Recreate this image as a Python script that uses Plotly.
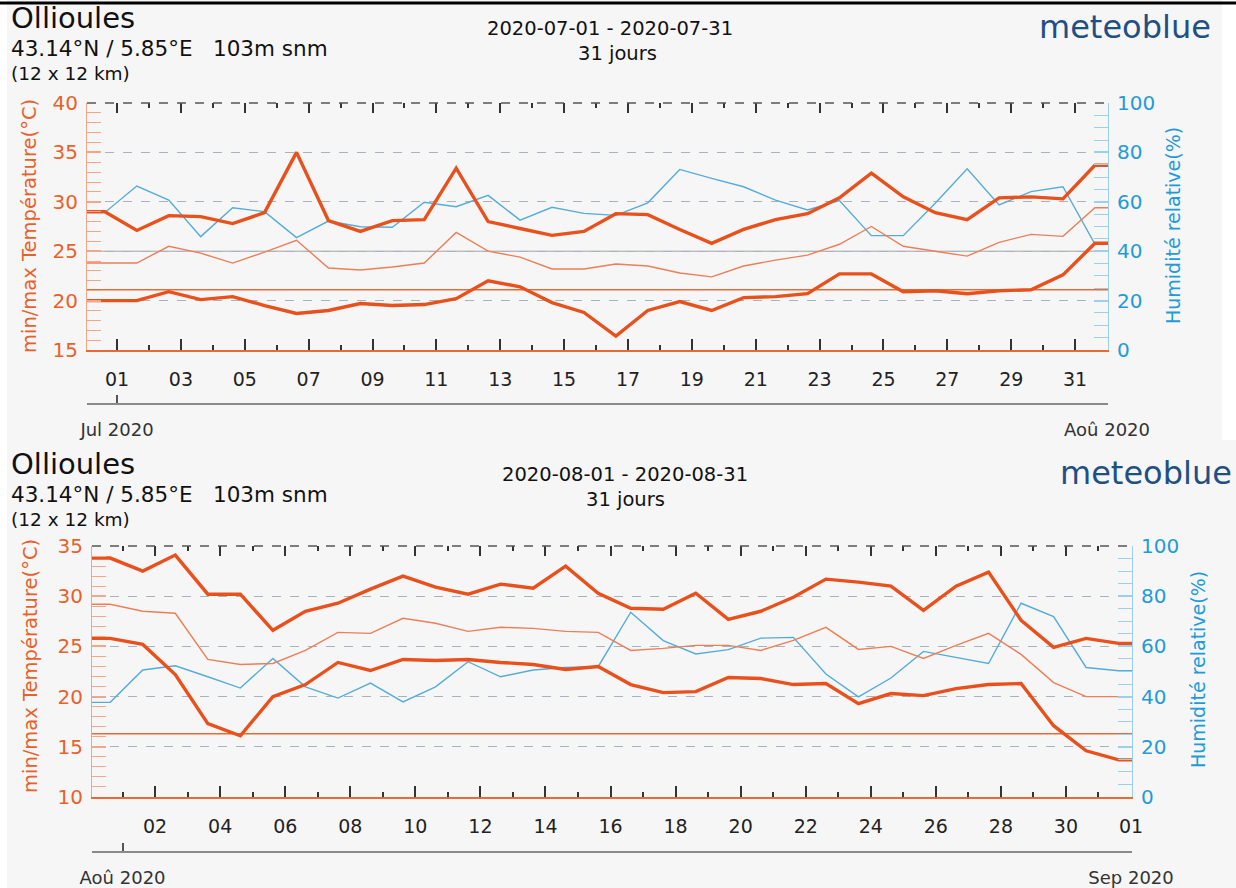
import plotly.graph_objects as go

# ---------------- data ----------------
# index 0 = last day of previous month, then day 1 .. 31 of the month
JUL_POINT_DAYS = list(range(0, 32))
AOU_POINT_DAYS = list(range(0, 32))

JUL_TMAX = [29.0, 27.1, 28.6, 28.5, 27.8, 28.9, 35.0, 28.1, 27.0, 28.1, 28.2, 33.4,
            28.0, 27.3, 26.6, 27.0, 28.8, 28.7, 27.2, 25.8, 27.2, 28.2, 28.8, 30.4,
            32.9, 30.5, 28.9, 28.2, 30.4, 30.5, 30.3, 33.7]
JUL_TMEAN = [23.8, 23.8, 25.5, 24.8, 23.8, 24.9, 26.1, 23.3, 23.1, 23.4, 23.8, 26.9,
             25.0, 24.4, 23.2, 23.2, 23.7, 23.5, 22.8, 22.4, 23.5, 24.1, 24.6, 25.7,
             27.5, 25.5, 25.0, 24.5, 25.9, 26.7, 26.5, 29.4]
JUL_TMIN = [20.0, 20.0, 20.9, 20.1, 20.4, 19.5, 18.7, 19.0, 19.7, 19.5, 19.6, 20.2,
            22.0, 21.4, 19.8, 18.8, 16.4, 19.0, 19.9, 19.0, 20.3, 20.4, 20.7, 22.7,
            22.7, 20.9, 21.0, 20.7, 21.0, 21.1, 22.6, 25.8]
JUL_HUM = [55.7, 66.4, 60.7, 45.9, 57.6, 56.0, 45.5, 52.2, 49.9, 49.7, 59.8, 58.0,
           62.6, 52.6, 57.8, 55.3, 54.5, 59.6, 73.1, 69.5, 66.1, 60.7, 56.7, 60.5,
           46.3, 46.3, 59.4, 73.4, 58.7, 64.1, 66.1, 42.9]
JUL_REF = 21.1

AOU_TMAX = [33.8, 32.5, 34.1, 30.2, 30.2, 26.6, 28.5, 29.3, 30.7, 32.0, 30.9, 30.2,
            31.2, 30.8, 33.0, 30.3, 28.8, 28.7, 30.3, 27.7, 28.5, 29.9, 31.7, 31.4,
            31.0, 28.6, 31.0, 32.4, 27.6, 24.9, 25.8, 25.3]
AOU_TMEAN = [29.2, 28.5, 28.3, 23.7, 23.2, 23.3, 24.6, 26.4, 26.3, 27.8, 27.3, 26.5,
             26.9, 26.8, 26.5, 26.4, 24.6, 24.8, 25.1, 25.1, 24.6, 25.6, 26.9, 24.7,
             25.0, 23.8, 25.1, 26.3, 24.2, 21.4, 20.0, 20.0]
AOU_TMIN = [25.8, 25.2, 22.2, 17.3, 16.1, 20.0, 21.2, 23.4, 22.6, 23.7, 23.6, 23.7,
            23.4, 23.2, 22.7, 23.0, 21.2, 20.4, 20.5, 21.9, 21.8, 21.2, 21.3, 19.3,
            20.3, 20.1, 20.8, 21.2, 21.3, 17.1, 14.6, 13.7]
AOU_HUM = [37.7, 50.6, 52.3, 47.9, 43.4, 55.2, 43.9, 39.4, 45.4, 37.9, 43.9, 53.9,
           47.9, 50.6, 51.6, 51.9, 73.6, 62.3, 57.0, 58.7, 63.3, 63.6, 49.0, 39.9,
           47.4, 58.0, 55.7, 53.2, 77.2, 71.9, 51.6, 50.3]
AOU_REF = 16.3

JUL_TICK_DAYS = list(range(1, 32, 2))
JUL_TICK_TEXT = ["01", "03", "05", "07", "09", "11", "13", "15", "17", "19", "21",
                 "23", "25", "27", "29", "31"]
JUL_MINOR_DAYS = list(range(2, 33, 2))
AOU_TICK_DAYS = list(range(2, 33, 2))
AOU_TICK_TEXT = ["02", "04", "06", "08", "10", "12", "14", "16", "18", "20", "22",
                 "24", "26", "28", "30", "01"]
AOU_MINOR_DAYS = list(range(1, 32, 2))
JUL_MONTH_DAYS = [1, 32]
JUL_MONTH_TEXT = ["Jul 2020", "Aoû 2020"]
AOU_MONTH_DAYS = [1, 32]
AOU_MONTH_TEXT = ["Aoû 2020", "Sep 2020"]

# ---------------- style ----------------
W, H = 1236, 888
FONT = "DejaVu Sans"
BG = "#f6f6f6"
ORANGE = "#e8501c"
ORANGE_THIN = "#ec7f58"
ORANGE_REF = "#ea6a34"
BLUE = "#55acd8"
BLUE_TXT = "#1f9bd8"
BLUE_TICK = "#9ccfea"
TEMP_TXT = "#e8612a"
TEMP_TICK = "#f2a888"
DARK = "#333333"
GRID = "#a9b3c0"
LOGO = "#1f4f85"
XR = [0.06, 32.03]
SHIFT = 0.62


def fx(px):
    return px / W


def fy(py):
    return 1 - py / H


def series(days, vals):
    xs = [XR[0]] + [d + SHIFT for d in days] + [XR[1]]
    ys = [vals[0]] + list(vals) + [vals[-1]]
    return xs, ys


fig = go.Figure()


def add_panel(days, tmax, tmean, tmin, hum, ref, xa, ya_h, ya_t):
    x, y = series(days, hum)
    fig.add_trace(go.Scatter(x=x, y=y, mode="lines", xaxis=xa, yaxis=ya_h,
                             line=dict(color=BLUE, width=1.4), hoverinfo="skip"))
    fig.add_trace(go.Scatter(x=XR, y=[ref, ref], mode="lines", xaxis=xa, yaxis=ya_t,
                             line=dict(color=ORANGE_REF, width=1.5), hoverinfo="skip"))
    x, y = series(days, tmean)
    fig.add_trace(go.Scatter(x=x, y=y, mode="lines", xaxis=xa, yaxis=ya_t,
                             line=dict(color=ORANGE_THIN, width=1.4), hoverinfo="skip"))
    for vals in (tmax, tmin):
        x, y = series(days, vals)
        fig.add_trace(go.Scatter(x=x, y=y, mode="lines", xaxis=xa, yaxis=ya_t,
                                 line=dict(color=ORANGE, width=3.4), hoverinfo="skip"))


add_panel(JUL_POINT_DAYS, JUL_TMAX, JUL_TMEAN, JUL_TMIN, JUL_HUM, JUL_REF, "x", "y", "y2")
add_panel(AOU_POINT_DAYS, AOU_TMAX, AOU_TMEAN, AOU_TMIN, AOU_HUM, AOU_REF, "x2", "y3", "y4")

# invisible carriers so that the decorative axes (top ticks, month axis) are drawn
for xa, ya, days in (("x3", "y", JUL_MONTH_DAYS), ("x5", "y", JUL_MONTH_DAYS),
                     ("x4", "y3", AOU_MONTH_DAYS), ("x6", "y3", AOU_MONTH_DAYS)):
    fig.add_trace(go.Scatter(x=days, y=[None] * len(days), mode="lines", xaxis=xa,
                             yaxis=ya, hoverinfo="skip", showlegend=False))


def main_x(domain, anchor, tickvals, ticktext, minor):
    return dict(domain=domain, anchor=anchor, range=XR, tickmode="array",
                tickvals=tickvals, ticktext=ticktext, ticks="inside", ticklen=11,
                tickwidth=2, tickcolor=DARK, showline=True, linecolor=ORANGE_REF,
                linewidth=2, showgrid=False, zeroline=False,
                tickfont=dict(family=FONT, size=19, color="#222"),
                ticklabelstandoff=11,
                minor=dict(tickvals=minor, ticks="inside", ticklen=5, tickwidth=2,
                           tickcolor=DARK, showgrid=False))


def top_x(over, anchor, tickvals, minor):
    return dict(overlaying=over, anchor=anchor, side="top", range=XR, tickmode="array",
                tickvals=tickvals, showticklabels=False, ticks="inside", ticklen=10,
                tickwidth=2, tickcolor=DARK, showline=False, showgrid=False,
                zeroline=False,
                minor=dict(tickvals=minor, ticks="inside", ticklen=5, tickwidth=2,
                           tickcolor=DARK, showgrid=False))


def month_x(over, pos, tickvals, ticktext):
    return dict(overlaying=over, anchor="free", position=pos, side="bottom", range=XR,
                tickmode="array", tickvals=tickvals, ticktext=ticktext, ticks="inside",
                ticklen=8, tickwidth=1.5, tickcolor="#555", showline=True,
                linecolor="#8a8a8a", linewidth=2, showgrid=False, zeroline=False,
                tickfont=dict(family=FONT, size=18, color="#333"), ticklabelstandoff=9)


def hum_y(domain, anchor):
    return dict(domain=domain, anchor=anchor, side="right", range=[0, 100],
                tickmode="array", tickvals=[0, 20, 40, 60, 80, 100], ticks="inside",
                ticklen=14, tickwidth=1.5, tickcolor=BLUE_TICK, showline=True,
                linecolor=BLUE_TICK, linewidth=1, showgrid=True, gridcolor=GRID,
                griddash="dash", gridwidth=1, zeroline=False,
                tickfont=dict(family=FONT, size=20, color=BLUE_TXT),
                ticklabelstandoff=4,
                minor=dict(dtick=5, ticks="inside", ticklen=14, tickwidth=1,
                           tickcolor=BLUE_TICK, showgrid=False))


def temp_y(over, anchor, rng):
    return dict(overlaying=over, anchor=anchor, side="left", range=rng,
                tickmode="array", tickvals=list(range(rng[0], rng[1] + 1, 5)),
                ticks="inside", ticklen=14, tickwidth=1.5, tickcolor=TEMP_TICK,
                showline=True, linecolor=TEMP_TICK, linewidth=1, showgrid=False,
                zeroline=False, tickfont=dict(family=FONT, size=20, color=TEMP_TXT),
                ticklabelstandoff=4,
                minor=dict(dtick=1, ticks="inside", ticklen=14, tickwidth=1,
                           tickcolor=TEMP_TICK, showgrid=False))


P1X = [fx(87), fx(1108)]
P1Y = [fy(350), fy(103)]
P2X = [fx(92), fx(1132)]
P2Y = [fy(797), fy(546)]

fig.update_layout(
    autosize=True, margin=dict(l=0, r=0, t=0, b=0, autoexpand=False),
    paper_bgcolor=BG, plot_bgcolor=BG, showlegend=False,
    font=dict(family=FONT, color="#222"),
    xaxis=main_x(P1X, "y", JUL_TICK_DAYS, JUL_TICK_TEXT, JUL_MINOR_DAYS),
    xaxis2=main_x(P2X, "y3", AOU_TICK_DAYS, AOU_TICK_TEXT, AOU_MINOR_DAYS),
    xaxis3=top_x("x", "y", JUL_TICK_DAYS, JUL_MINOR_DAYS),
    xaxis4=top_x("x2", "y3", AOU_TICK_DAYS, AOU_MINOR_DAYS),
    xaxis5=month_x("x", fy(404), JUL_MONTH_DAYS, JUL_MONTH_TEXT),
    xaxis6=month_x("x2", fy(852), AOU_MONTH_DAYS, AOU_MONTH_TEXT),
    yaxis=hum_y(P1Y, "x"),
    yaxis2=temp_y("y", "x", [15, 40]),
    yaxis3=hum_y(P2Y, "x2"),
    yaxis4=temp_y("y3", "x2", [10, 35]),
)

shapes = []
# white page edges around the two screenshots
shapes.append(dict(type="rect", xref="paper", yref="paper", x0=0, x1=fx(7), y0=0, y1=1,
                   fillcolor="white", line=dict(width=0), layer="below"))
shapes.append(dict(type="rect", xref="paper", yref="paper", x0=fx(1222), x1=1,
                   y0=fy(440), y1=1, fillcolor="white", line=dict(width=0), layer="below"))
shapes.append(dict(type="line", xref="paper", yref="paper", x0=0, x1=1,
                   y0=fy(3), y1=fy(3), line=dict(color="black", width=3)))
# dashed top frame of each plot
for xr, yr in (("x domain", "y domain"), ("x2 domain", "y3 domain")):
    shapes.append(dict(type="line", xref=xr, yref=yr, x0=0, x1=1, y0=1, y1=1,
                       line=dict(color="#555", width=1.5, dash="dash")))
# the July 40 % grid line is solid in the reference
shapes.append(dict(type="line", xref="x domain", yref="y", x0=0, x1=1, y0=40, y1=40,
                   line=dict(color="#a4a4a4", width=1), layer="below"))
fig.update_layout(shapes=shapes)

ann = []


def text(x, y, s, size, color="#111", xanchor="left", angle=0):
    ann.append(dict(x=fx(x), y=fy(y), xref="paper", yref="paper", text=s,
                    showarrow=False, xanchor=xanchor, yanchor="middle",
                    textangle=angle, borderpad=0,
                    font=dict(family=FONT, size=size, color=color)))


for dy, date_txt, logo_x in ((0, "2020-07-01 - 2020-07-31", 1212),
                             (446, "2020-08-01 - 2020-08-31", 1233)):
    text(10, 18 + dy, "Ollioules", 29)
    text(10, 48 + dy, "43.14°N / 5.85°E   103m snm", 21.5)
    text(10, 73 + dy, "(12 x 12 km)", 18.5)
    text(610 + (15 if dy else 0), 28 + dy, date_txt, 19.5, xanchor="center")
    text(617 + (8 if dy else 0), 53 + dy, "31 jours", 19.5, xanchor="center")
    text(logo_x, 27 + dy, "meteoblue", 32, color=LOGO, xanchor="right")

text(30, 226, "min/max Température(°C)", 19.5, color=TEMP_TXT, xanchor="center", angle=-90)
text(30, 666, "min/max Température(°C)", 19.5, color=TEMP_TXT, xanchor="center", angle=-90)
text(1173, 226, "Humidité relative(%)", 19, color=BLUE_TXT, xanchor="center", angle=-90)
text(1198, 670, "Humidité relative(%)", 19, color=BLUE_TXT, xanchor="center", angle=-90)

fig.update_layout(annotations=ann)

POST = """
document.documentElement.style.margin='0';
document.documentElement.style.height='100%';
document.documentElement.style.overflow='hidden';
document.body.style.margin='0';
document.body.style.height='100%';
document.body.style.overflow='hidden';
var gd = document.getElementById('{plot_id}');
gd.parentElement.style.height='100%';
gd.parentElement.style.width='100%';
gd.style.height='100%';
gd.style.width='100%';
Plotly.Plots.resize(gd);
"""

fig.write_html("out.html", default_width="100%", default_height="100%",
               config={"displayModeBar": False, "responsive": True},
               post_script=POST)
